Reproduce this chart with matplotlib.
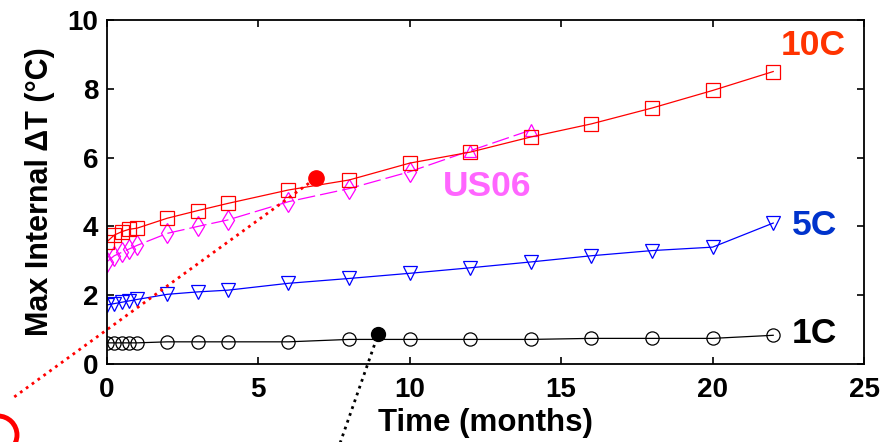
import numpy as np
import matplotlib
matplotlib.use("Agg")
import matplotlib.pyplot as plt
from matplotlib.patches import Circle

plt.rcParams['font.family'] = ['Liberation Sans', 'DejaVu Sans']
plt.rcParams['font.weight'] = 'bold'

# Storage time in months
t_all = [0, 0.25, 0.5, 0.75, 1, 2, 3, 4, 6, 8, 10, 12, 14, 16, 18, 20, 22]
t_us06 = [0, 0.25, 0.5, 0.75, 1, 2, 3, 4, 6, 8, 10, 12, 14]

# Max internal delta T (deg C)
dt_1c = [0.62, 0.62, 0.62, 0.62, 0.62, 0.65, 0.65, 0.65, 0.65, 0.72, 0.72, 0.72, 0.72, 0.75, 0.75, 0.75, 0.84]
dt_5c = [1.72, 1.76, 1.80, 1.84, 1.88, 2.03, 2.10, 2.15, 2.35, 2.49, 2.64, 2.80, 2.97, 3.15, 3.30, 3.40, 4.10]
dt_10c = [3.55, 3.75, 3.85, 3.92, 3.95, 4.24, 4.46, 4.67, 5.06, 5.35, 5.84, 6.16, 6.60, 6.98, 7.44, 7.95, 8.50]
dt_us06 = [2.97, 3.15, 3.25, 3.35, 3.45, 3.80, 4.00, 4.19, 4.72, 5.10, 5.59, 6.20, 6.80]

# leftover annotation pointers
red_dot = (6.9, 5.4)
red_tail = (-3.05, -0.95)
black_dot = (8.96, 0.87)
black_tail = (7.7, -2.3)

fig = plt.figure(figsize=(8.89, 4.42), dpi=100)
ax = fig.add_axes([0.120, 0.176, 0.852, 0.779])

ax.plot(t_all, dt_1c, color='black', lw=0.9, marker='o', ms=9.5,
        mfc='none', mec='black', mew=0.9)
ax.plot(t_all, dt_5c, color='blue', lw=0.9, marker='v', ms=10,
        mfc='none', mec='blue', mew=0.9)
ax.plot(t_us06, dt_us06, color='#FF00FF', lw=0.9, ls=(0, (14, 4)),
        marker='d', ms=10, mfc='none', mec='#FF00FF', mew=0.9, markevery=range(11))
ax.plot(t_us06[11:], dt_us06[11:], ls='none', marker='^', ms=9,
        mfc='none', mec='#FF00FF', mew=0.9)
ax.plot(t_all, dt_10c, color='red', lw=0.9, marker='s', ms=10.5,
        mfc='none', mec='red', mew=0.9)

# dotted pointer lines going out of the axes
ax.plot([red_tail[0], red_dot[0]], [red_tail[1], red_dot[1]], color='red',
        ls=(0, (1, 1.6)), lw=2, clip_on=False)
ax.plot(*red_dot, 'o', color='red', ms=11, clip_on=False)
ax.plot([black_tail[0], black_dot[0]], [black_tail[1], black_dot[1]], color='black',
        ls=(0, (1, 1.6)), lw=2, clip_on=False)
ax.plot(*black_dot, 'o', color='black', ms=10, clip_on=False)

# red arc partly visible in the bottom-left corner
fig.add_artist(Circle((-2, 7), 19, transform=None, fill=False, ec='red', lw=3.5))

ax.text(22.25, 9.27, '10C', color='#FF3300', fontsize=25.5, fontweight='bold', va='center')
ax.text(11.1, 5.15, 'US06', color='#FF66FF', fontsize=25.5, fontweight='bold', va='center')
ax.text(22.6, 4.04, '5C', color='#0033CC', fontsize=25.5, fontweight='bold', va='center')
ax.text(22.6, 0.9, '1C', color='black', fontsize=25.5, fontweight='bold', va='center')

ax.set_xlim(0, 25)
ax.set_ylim(0, 10)
ax.set_xticks([0, 5, 10, 15, 20, 25])
ax.set_yticks([0, 2, 4, 6, 8, 10])
ax.tick_params(direction='in', length=5, width=1.2, top=True, right=True,
               labelsize=20, pad=6)
ax.tick_params(axis='x', pad=9)
for lab in ax.get_xticklabels() + ax.get_yticklabels():
    lab.set_fontweight('bold')
for sp in ax.spines.values():
    sp.set_linewidth(1.3)

ax.set_xlabel('Time (months)', fontsize=22.5, fontweight='bold', labelpad=4)
ax.set_ylabel('Max Internal \u0394T (\u00b0C)', fontsize=22, fontweight='bold', labelpad=9)

fig.savefig('out.png', dpi=100)
